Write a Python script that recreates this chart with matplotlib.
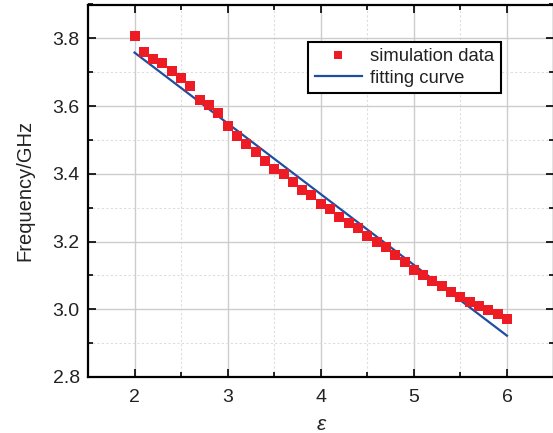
import matplotlib
matplotlib.use("Agg")
import matplotlib.pyplot as plt
from matplotlib.ticker import MultipleLocator

# permittivity vs resonant frequency
eps = [2.0, 2.1, 2.2, 2.3, 2.4, 2.5, 2.6, 2.7, 2.8, 2.9,
       3.0, 3.1, 3.2, 3.3, 3.4, 3.5, 3.6, 3.7, 3.8, 3.9,
       4.0, 4.1, 4.2, 4.3, 4.4, 4.5, 4.6, 4.7, 4.8, 4.9,
       5.0, 5.1, 5.2, 5.3, 5.4, 5.5, 5.6, 5.7, 5.8, 5.9, 6.0]
freq = [3.808, 3.760, 3.739, 3.727, 3.704, 3.683, 3.659, 3.619, 3.603, 3.579,
        3.540, 3.513, 3.488, 3.464, 3.439, 3.415, 3.400, 3.375, 3.352, 3.337,
        3.311, 3.296, 3.272, 3.256, 3.240, 3.216, 3.200, 3.183, 3.160, 3.141,
        3.117, 3.100, 3.083, 3.068, 3.052, 3.036, 3.022, 3.011, 2.999, 2.987, 2.970]

fit_eps = [2.0, 6.0]
fit_freq = [3.758, 2.922]

plt.rcParams['font.family'] = ['Liberation Sans', 'DejaVu Sans']

fig = plt.figure(figsize=(5.53, 4.33), dpi=100)
ax = fig.add_axes([88 / 553, 1 - 377 / 433, (553.5 - 88) / 553, (377 - 4.5) / 433])

ax.plot(eps, freq, 's', color='#ed1c24', markersize=6.8, markeredgewidth=0,
        label='simulation data', zorder=3)
ax.plot(fit_eps, fit_freq, '-', color='#1f4ea1', linewidth=1.6,
        label='fitting curve', zorder=2)

ax.set_xlim(1.5, 6.5)
ax.set_ylim(2.8, 3.9)
ax.xaxis.set_major_locator(MultipleLocator(1))
ax.xaxis.set_minor_locator(MultipleLocator(0.5))
ax.yaxis.set_major_locator(MultipleLocator(0.2))
ax.yaxis.set_minor_locator(MultipleLocator(0.1))
ax.yaxis.set_major_formatter(matplotlib.ticker.FormatStrFormatter('%.1f'))

ax.grid(which='major', color='#cccccc', linewidth=1.0, linestyle='-')
ax.grid(which='minor', color='#dddddd', linewidth=0.8, linestyle=(0, (2, 2)))
ax.set_axisbelow(True)

ax.tick_params(which='both', direction='in', top=True, right=True, width=1.2)
ax.tick_params(which='major', length=6, labelsize=14, labelcolor='#222222')
ax.tick_params(axis='x', which='major', pad=9)
ax.tick_params(axis='y', which='major', pad=6)
ax.tick_params(which='minor', length=3.5)
for s in ax.spines.values():
    s.set_linewidth(1.6)

ax.set_xlabel('ε', fontsize=15, fontstyle='italic', labelpad=6, color='#222222')
ax.set_ylabel('Frequency/GHz', fontsize=14.5, labelpad=13, color='#222222')

leg = ax.legend(loc='upper left', bbox_to_anchor=(0.473, 0.9), fontsize=13.3,
                frameon=True, fancybox=False, edgecolor='black', framealpha=1,
                handlelength=2.55, borderpad=0.35, labelspacing=0.25,
                handletextpad=0.45, markerscale=0.75, borderaxespad=0)
leg.get_frame().set_linewidth(1.5)
for t in leg.get_texts():
    t.set_color('#222222')

fig.savefig('out.png', dpi=100)
